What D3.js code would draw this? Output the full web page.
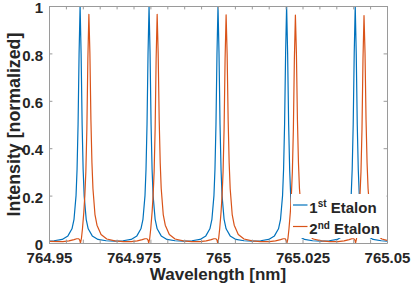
<!DOCTYPE html>
<html lang="en">
<head>
    <meta charset="UTF-8">
    <title>Etalon transmission</title>
    <script src="https://cdnjs.cloudflare.com/ajax/libs/d3/7.8.5/d3.min.js"></script>
    <style>
        body {
            margin: 0;
            background-color: white;
        }

        #chart text {
            font-family: "Liberation Sans", Arial, sans-serif;
            font-weight: bold;
            fill: #262626;
        }

        .axis path, .axis line {
            stroke: #9a9a9a;
        }
    </style>
</head>
<body>
<div id="chart"></div>
<script>
    // 1st etalon (blue)
    const blueWl = [
        764.9500, 764.9515, 764.9539, 764.9556, 764.9568, 764.9574, 764.9580, 764.9583, 764.9586, 764.9589,
        764.9592, 764.9595, 764.9598, 764.9601, 764.9604, 764.9610, 764.9616, 764.9628, 764.9645, 764.9669,
        764.9694, 764.9719, 764.9743, 764.9760, 764.9772, 764.9778, 764.9784, 764.9787, 764.9790, 764.9793,
        764.9796, 764.9799, 764.9802, 764.9805, 764.9808, 764.9814, 764.9820, 764.9832, 764.9849, 764.9873,
        764.9898, 764.9923, 764.9947, 764.9964, 764.9976, 764.9982, 764.9988, 764.9991, 764.9994, 764.9997,
        765.0000, 765.0003, 765.0006, 765.0009, 765.0012, 765.0018, 765.0024, 765.0036, 765.0053, 765.0077,
        765.0102, 765.0126, 765.0150, 765.0167, 765.0179, 765.0185, 765.0191, 765.0194, 765.0197, 765.0200,
        765.0203, 765.0206, 765.0209, 765.0212, 765.0215, 765.0221, 765.0227, 765.0239, 765.0256, 765.0280,
        765.0305, 765.0329, 765.0353, 765.0370, 765.0382, 765.0388, 765.0394, 765.0397, 765.0400, 765.0403,
        765.0406, 765.0409, 765.0412, 765.0415, 765.0418, 765.0424, 765.0430, 765.0442, 765.0459, 765.0483,
        765.0500
    ];
    const blueI = [
        0.008, 0.0095, 0.015, 0.03, 0.06, 0.10, 0.20, 0.31, 0.50, 0.80,
        1.00, 0.80, 0.50, 0.31, 0.20, 0.10, 0.06, 0.03, 0.015, 0.0095,
        0.008, 0.0095, 0.015, 0.03, 0.06, 0.10, 0.20, 0.31, 0.50, 0.80,
        1.00, 0.80, 0.50, 0.31, 0.20, 0.10, 0.06, 0.03, 0.015, 0.0095,
        0.008, 0.0095, 0.015, 0.03, 0.06, 0.10, 0.20, 0.31, 0.50, 0.80,
        1.00, 0.80, 0.50, 0.31, 0.20, 0.10, 0.06, 0.03, 0.015, 0.0095,
        0.008, 0.0095, 0.015, 0.03, 0.06, 0.10, 0.20, 0.31, 0.50, 0.80,
        1.00, 0.80, 0.50, 0.31, 0.20, 0.10, 0.06, 0.03, 0.015, 0.0095,
        0.008, 0.0095, 0.015, 0.03, 0.06, 0.10, 0.20, 0.31, 0.50, 0.80,
        1.00, 0.80, 0.50, 0.31, 0.20, 0.10, 0.06, 0.03, 0.015, 0.0095,
        0.008
    ];

    // 2nd etalon (orange)
    const orangeWl = [
        764.9500, 764.9541, 764.9559, 764.9574, 764.9582, 764.9588, 764.9591, 764.9593, 764.9596, 764.9599,
        764.9603, 764.9606, 764.9609, 764.9612, 764.9615, 764.9618, 764.9621, 764.9624, 764.9627, 764.9630,
        764.9636, 764.9642, 764.9654, 764.9671, 764.9695, 764.9720,
        764.9743, 764.9761, 764.9776, 764.9784, 764.9790, 764.9793, 764.9795, 764.9798, 764.9801,
        764.9805, 764.9808, 764.9811, 764.9814, 764.9817, 764.9820, 764.9823, 764.9826, 764.9829, 764.9832,
        764.9838, 764.9844, 764.9856, 764.9873, 764.9897, 764.9922,
        764.9947, 764.9965, 764.9980, 764.9988, 764.9994, 764.9997, 764.9999, 765.0002, 765.0005,
        765.0009, 765.0012, 765.0015, 765.0018, 765.0021, 765.0024, 765.0027, 765.0030, 765.0033, 765.0036,
        765.0042, 765.0048, 765.0060, 765.0077, 765.0101, 765.0126,
        765.0152, 765.0170, 765.0185, 765.0193, 765.0199, 765.0201, 765.0204, 765.0207, 765.0210,
        765.0214, 765.0217, 765.0220, 765.0223, 765.0226, 765.0229, 765.0232, 765.0235, 765.0238, 765.0241,
        765.0247, 765.0253, 765.0265, 765.0282, 765.0306, 765.0331,
        765.0355, 765.0373, 765.0388, 765.0396, 765.0402, 765.0405, 765.0407, 765.0410, 765.0413,
        765.0417, 765.0420, 765.0423, 765.0426, 765.0429, 765.0432, 765.0435, 765.0438, 765.0441, 765.0444,
        765.0450, 765.0456, 765.0468, 765.0485, 765.0500
    ];
    const orangeI = [
        0.007, 0.006, 0.009, 0.014, 0.018, 0.018, 0.012, 0.0, 0.02, 0.06,
        0.13, 0.20, 0.30, 0.48, 0.78, 0.965, 0.80, 0.52, 0.34, 0.23,
        0.12, 0.075, 0.036, 0.017, 0.009, 0.006,
        0.006, 0.009, 0.014, 0.018, 0.018, 0.012, 0.0, 0.02, 0.06,
        0.13, 0.20, 0.30, 0.48, 0.78, 0.965, 0.80, 0.52, 0.34, 0.23,
        0.12, 0.075, 0.036, 0.017, 0.009, 0.006,
        0.006, 0.009, 0.014, 0.018, 0.018, 0.012, 0.0, 0.02, 0.06,
        0.13, 0.20, 0.30, 0.48, 0.78, 0.963, 0.80, 0.52, 0.34, 0.23,
        0.12, 0.075, 0.036, 0.017, 0.009, 0.006,
        0.006, 0.009, 0.014, 0.018, 0.018, 0.012, 0.0, 0.02, 0.06,
        0.13, 0.20, 0.30, 0.48, 0.78, 0.962, 0.80, 0.52, 0.34, 0.23,
        0.12, 0.075, 0.036, 0.017, 0.009, 0.006,
        0.006, 0.009, 0.014, 0.018, 0.018, 0.012, 0.0, 0.02, 0.06,
        0.13, 0.20, 0.30, 0.48, 0.78, 0.96, 0.80, 0.52, 0.34, 0.23,
        0.12, 0.075, 0.036, 0.017, 0.011
    ];

    const xTicks = [764.95, 764.955, 764.96, 764.965, 764.97, 764.975, 764.98, 764.985, 764.99, 764.995,
        765, 765.005, 765.01, 765.015, 765.02, 765.025, 765.03, 765.035, 765.04, 765.045, 765.05];
    const xTickLabels = {764.95: '764.95', 764.975: '764.975', 765: '765', 765.025: '765.025', 765.05: '765.05'};
    const yTicks = [0, 0.2, 0.4, 0.6, 0.8, 1];
    const yTickLabels = ['0', '0.2', '0.4', '0.6', '0.8', '1'];

    const seriesNames = ['1', '2'];
    const seriesSup = ['st', 'nd'];
    const seriesColors = ['#0072BD', '#D95319'];

    const width = 415;
    const height = 290;
    const margin = {left: 49, right: 28, top: 6, bottom: 47};

    const svg = d3.select('#chart').append('svg')
        .attr('width', width)
        .attr('height', height);

    const x = d3.scaleLinear().domain([764.95, 765.05]).range([margin.left, width - margin.right]);
    const y = d3.scaleLinear().domain([0, 1]).range([height - margin.bottom, margin.top]);

    svg.append('clipPath').attr('id', 'plotClip')
        .append('rect')
        .attr('x', x.range()[0]).attr('y', y.range()[1])
        .attr('width', x.range()[1] - x.range()[0])
        .attr('height', y.range()[0] - y.range()[1]);

    const line = d3.line().x(d => x(d[0])).y(d => y(d[1]));
    const blueData = blueWl.map((w, i) => [w, blueI[i]]);
    const orangeData = orangeWl.map((w, i) => [w, orangeI[i]]);

    const plot = svg.append('g').attr('clip-path', 'url(#plotClip)');
    [blueData, orangeData].forEach((data, i) => {
        plot.append('path')
            .datum(data)
            .attr('fill', 'none')
            .attr('stroke', seriesColors[i])
            .attr('stroke-width', 1.2)
            .attr('stroke-linejoin', 'round')
            .attr('d', line);
    });

    // axes (box with inward ticks)
    const tickLen = 3.4;
    const fmtX = d => xTickLabels[d] || '';
    svg.append('g').attr('class', 'axis')
        .attr('transform', `translate(0,${y(0)})`)
        .call(d3.axisBottom(x).tickValues(xTicks).tickFormat(fmtX).tickSizeInner(-tickLen).tickSizeOuter(0).tickPadding(9))
        .call(g => g.selectAll('text').attr('font-size', 15).attr('dy', '0.71em'));
    svg.append('g').attr('class', 'axis')
        .attr('transform', `translate(0,${y(1)})`)
        .call(d3.axisTop(x).tickValues(xTicks).tickFormat('').tickSizeInner(-tickLen).tickSizeOuter(0));
    svg.append('g').attr('class', 'axis')
        .attr('transform', `translate(${x.range()[0]},0)`)
        .call(d3.axisLeft(y).tickValues(yTicks).tickFormat((d, i) => yTickLabels[i]).tickSizeInner(-tickLen).tickSizeOuter(0).tickPadding(6))
        .call(g => g.selectAll('text').attr('font-size', 15).attr('dy', '0.45em'));
    svg.append('g').attr('class', 'axis')
        .attr('transform', `translate(${x.range()[1]},0)`)
        .call(d3.axisRight(y).tickValues(yTicks).tickFormat('').tickSizeInner(-tickLen).tickSizeOuter(0));
    svg.selectAll('.axis .domain').attr('stroke-width', 1);

    svg.append('text')
        .attr('x', (x.range()[0] + x.range()[1]) / 2)
        .attr('y', 280)
        .attr('text-anchor', 'middle')
        .attr('font-size', 17)
        .text('Wavelength [nm]');

    svg.append('text')
        .attr('transform', `translate(19.5,${(y(0) + y(1)) / 2}) rotate(-90)`)
        .attr('text-anchor', 'middle')
        .attr('font-size', 17.8)
        .text('Intensity [normalized]');

    // legend
    const legend = svg.append('g');
    legend.append('rect')
        .attr('x', 291).attr('y', 194)
        .attr('width', x.range()[1] - 291 - 0.5).attr('height', 44)
        .attr('fill', 'white');
    seriesNames.forEach((name, i) => {
        const ly = 205 + i * 21.5;
        legend.append('line')
            .attr('x1', 293).attr('x2', 307.5)
            .attr('y1', ly).attr('y2', ly)
            .attr('stroke', seriesColors[i])
            .attr('stroke-width', 1.2);
        const t = legend.append('text')
            .attr('x', 309.3).attr('y', ly + 7.5)
            .attr('font-size', 15);
        t.append('tspan').text(name);
        t.append('tspan').attr('font-size', 10).attr('dy', -5.5).text(seriesSup[i]);
        t.append('tspan').attr('dy', 5.5).text('\u00a0Etalon');
    });
</script>
</body>
</html>
